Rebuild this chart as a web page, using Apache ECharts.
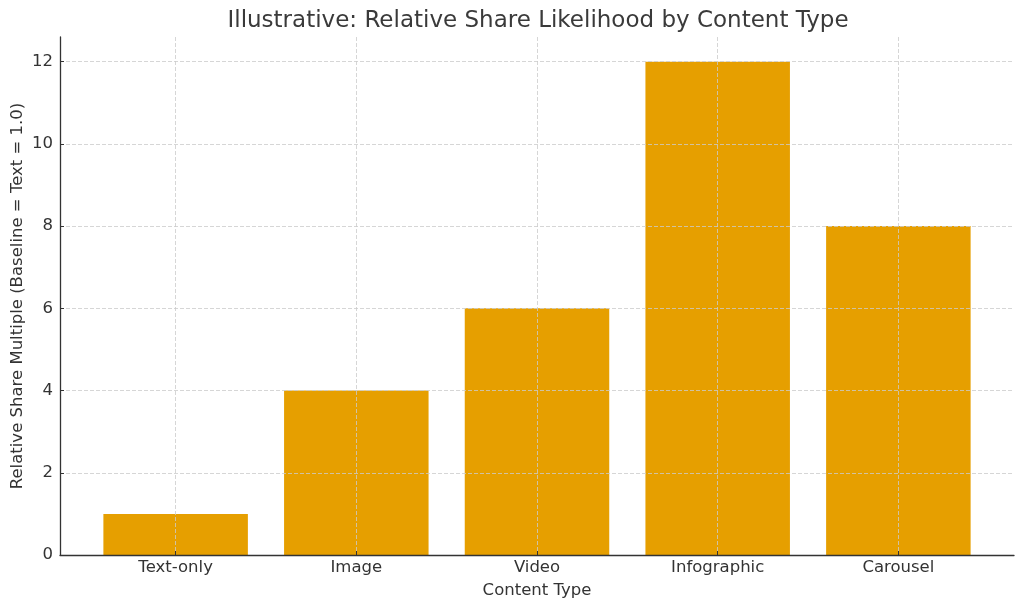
<!DOCTYPE html>
<html>
<head>
<meta charset="utf-8">
<script src="https://cdn.jsdelivr.net/npm/echarts@6/dist/echarts.min.js"></script>
<style>
	html, body { margin: 0; padding: 0; background: #fff; }
	#chart { width: 1024px; height: 610px; }
</style>
</head>
<body>
<div id="chart"></div>
<script>
var categories = ['Text-only', 'Image', 'Video', 'Infographic', 'Carousel'];
var shareValues = [1, 4, 6, 12, 8];
var yTicks = [0, 2, 4, 6, 8, 10, 12];

var font = 'DejaVu Sans';
var axisColor = '#333333';
var gridLineStyle = { color: '#cccccc', type: [4, 2], width: 0.8 };

// bars sit at positions 0..n-1 on a value axis (matplotlib style margins)
var xPositions = categories.map(function (c, i) { return i; });
var barData = shareValues.map(function (v, i) { return [xPositions[i], v]; });

var chartDom = document.getElementById('chart');
var myChart = echarts.init(chartDom, null, { renderer: 'canvas' });

var option = {
	animation: false,
	title: {
		text: 'Illustrative: Relative Share Likelihood by Content Type',
		left: 533,
		textAlign: 'center',
		top: 5,
		textStyle: { fontFamily: font, fontSize: 23, fontWeight: 'normal', color: '#3a3a3a' }
	},
	grid: {
		left: 60, right: 10, top: 37, bottom: 55,
		outerBoundsMode: 'none'
	},
	xAxis: {
		type: 'value',
		min: -0.64,
		max: 4.64,
		name: 'Content Type',
		nameLocation: 'middle',
		nameGap: 27,
		nameMoveOverlap: false,
		nameTextStyle: { fontFamily: font, fontSize: 16.5, color: axisColor },
		axisLine: { show: true, onZero: false, lineStyle: { color: axisColor, width: 1.3 } },
		axisTick: { show: true, inside: true, length: 4, customValues: xPositions, lineStyle: { color: axisColor } },
		axisLabel: {
			fontFamily: font, fontSize: 16.5, color: axisColor, margin: 4,
			customValues: xPositions,
			formatter: function (v) { return categories[Math.round(v)]; }
		},
		splitLine: { show: true, lineStyle: gridLineStyle },
		z: 5
	},
	yAxis: {
		type: 'value',
		min: 0,
		max: 12.6,
		name: 'Relative Share Multiple (Baseline = Text = 1.0)',
		nameLocation: 'middle',
		nameGap: 34,
		nameMoveOverlap: false,
		nameTextStyle: { fontFamily: font, fontSize: 16.5, color: axisColor },
		axisLine: { show: true, onZero: false, lineStyle: { color: axisColor, width: 1.3 } },
		axisTick: { show: true, inside: true, length: 4, customValues: yTicks, lineStyle: { color: axisColor } },
		axisLabel: { fontFamily: font, fontSize: 16.5, color: axisColor, margin: 7, customValues: yTicks },
		splitLine: { show: true, lineStyle: gridLineStyle },
		z: 5
	},
	series: [{
		type: 'bar',
		data: barData,
		barWidth: 144.5,
		itemStyle: { color: '#E69F00' },
		z: 1
	}]
};

myChart.setOption(option);
</script>
</body>
</html>
